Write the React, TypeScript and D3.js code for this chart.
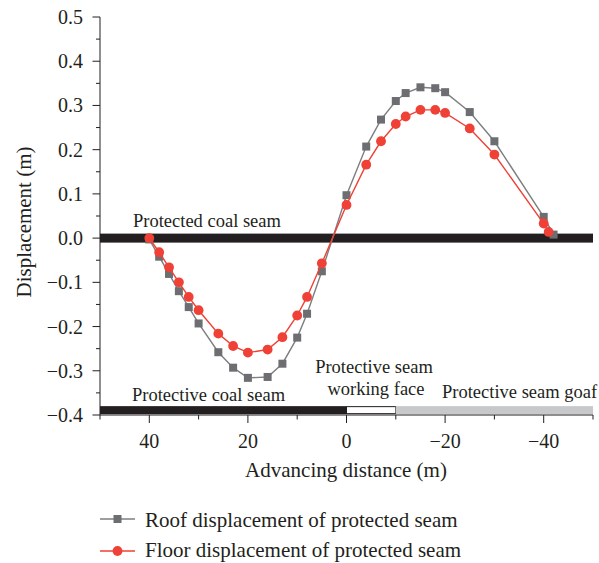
import React from "react";
import * as d3 from "d3";

const roofX = [40, 38, 36, 34, 32, 30, 26, 23, 20, 16, 13, 10, 8, 5, 0, -4, -7, -10, -12, -15, -18, -20, -25, -30, -40, -42];
const roofY = [-0.003, -0.042, -0.081, -0.12, -0.156, -0.193, -0.258, -0.293, -0.316, -0.314, -0.284, -0.225, -0.171, -0.075, 0.097, 0.207, 0.268, 0.31, 0.328, 0.341, 0.339, 0.33, 0.285, 0.219, 0.048, 0.008];
const floorX = [40, 38, 36, 34, 32, 30, 26, 23, 20, 16, 13, 10, 8, 5, 0, -4, -7, -10, -12, -15, -18, -20, -25, -30, -40, -41];
const floorY = [0, -0.032, -0.066, -0.1, -0.133, -0.163, -0.216, -0.244, -0.259, -0.252, -0.224, -0.175, -0.133, -0.057, 0.075, 0.166, 0.219, 0.258, 0.275, 0.29, 0.29, 0.283, 0.248, 0.189, 0.033, 0.014];

const xTicks = [40, 20, 0, -20, -40];
const xMinor = [50, 30, 10, -10, -30, -50];
const yTicks = [-0.4, -0.3, -0.2, -0.1, 0, 0.1, 0.2, 0.3, 0.4, 0.5];
const yMinor = [-0.35, -0.25, -0.15, -0.05, 0.05, 0.15, 0.25, 0.35, 0.45];

// seam bands: [start, end] in advancing distance
const protectiveSolid = [50, 0];
const workingFace = [0, -10];
const goaf = [-10, -50];
const protectedSeam = [50, -50];

const roofLabel = "Roof displacement of protected seam";
const floorLabel = "Floor displacement of protected seam";

const FONT = "'Liberation Serif', 'Times New Roman', serif";
const GRAY = "#6d6e71";
const GRAY_LINE = "#7d7e81";
const RED = "#ef4136";
const DARK = "#231f20";

export default function App() {
  const x = d3.scaleLinear().domain([50, -50]).range([100, 593]);
  const y = d3.scaleLinear().domain([-0.4, 0.5]).range([415, 17]);

  const roof = roofX.map((v, i) => [v, roofY[i]] as [number, number]);
  const floor = floorX.map((v, i) => [v, floorY[i]] as [number, number]);
  const line = d3.line<[number, number]>().x(d => x(d[0])).y(d => y(d[1]));

  const fmt = (v: number) => (v < 0 ? "\u2212" : "") + Math.abs(v).toFixed(1);
  const fmtX = (v: number) => (v < 0 ? "\u2212" : "") + Math.abs(v);

  const bandTopY = y(0);
  const bottomBandY = y(-0.389);

  return (
    <svg width={599} height={563} style={{ position: "absolute", left: 0, top: 0 }} fontFamily={FONT}>
      <rect width={599} height={563} fill="#fff" />
      {/* protected seam band */}
      <rect x={x(protectedSeam[0])} y={bandTopY - 4.5} width={x(protectedSeam[1]) - x(protectedSeam[0])} height={9} fill={DARK} />
      {/* protective seam bands */}
      <rect x={x(protectiveSolid[0])} y={bottomBandY - 4} width={x(protectiveSolid[1]) - x(protectiveSolid[0])} height={8} fill={DARK} />
      <rect x={x(workingFace[0])} y={bottomBandY - 3.5} width={x(workingFace[1]) - x(workingFace[0])} height={7} fill="#fff" stroke={DARK} strokeWidth={1} />
      <rect x={x(goaf[0])} y={bottomBandY - 4} width={x(goaf[1]) - x(goaf[0])} height={8} fill="#c7c8ca" />

      {/* annotations */}
      <text x={133} y={227} fontSize={18.5} fill={DARK}>Protected coal seam</text>
      <text x={132} y={400.5} fontSize={18.5} fill={DARK}>Protective coal seam</text>
      <text x={374} y={373} fontSize={18.5} fill={DARK} textAnchor="middle">Protective seam</text>
      <text x={376} y={395} fontSize={18.5} fill={DARK} textAnchor="middle">working face</text>
      <text x={442} y={398} fontSize={18.5} fill={DARK}>Protective seam goaf</text>

      {/* axes */}
      <line x1={100} x2={100} y1={y(0.5)} y2={y(-0.4)} stroke={DARK} strokeWidth={1} />
      <line x1={100} x2={593} y1={y(-0.4)} y2={y(-0.4)} stroke={DARK} strokeWidth={1} />
      {yTicks.map(t => (
        <g key={"yt" + t}>
          <line x1={92.5} x2={100} y1={y(t)} y2={y(t)} stroke={DARK} />
          <text x={83} y={y(t)} dy="0.35em" textAnchor="end" fontSize={20} fill={DARK}>{fmt(t)}</text>
        </g>
      ))}
      {yMinor.map(t => (
        <line key={"ym" + t} x1={96} x2={100} y1={y(t)} y2={y(t)} stroke={DARK} />
      ))}
      {xTicks.map(t => (
        <g key={"xt" + t}>
          <line x1={x(t)} x2={x(t)} y1={415} y2={423} stroke={DARK} />
          <text x={x(t)} y={448} textAnchor="middle" fontSize={20} fill={DARK}>{fmtX(t)}</text>
        </g>
      ))}
      {xMinor.map(t => (
        <line key={"xm" + t} x1={x(t)} x2={x(t)} y1={415} y2={419.5} stroke={DARK} />
      ))}
      <text x={346} y={477} textAnchor="middle" fontSize={21} fill={DARK}>Advancing distance (m)</text>
      <text transform={`translate(31,${(y(0.5) + y(-0.4)) / 2 + 6}) rotate(-90)`} textAnchor="middle" fontSize={21} fill={DARK}>Displacement (m)</text>

      {/* series */}
      <path d={line(roof) || ""} fill="none" stroke={GRAY_LINE} strokeWidth={1.4} />
      {roof.map((d, i) => (
        <rect key={"r" + i} x={x(d[0]) - 4} y={y(d[1]) - 4} width={8} height={8} fill={GRAY} />
      ))}
      <path d={line(floor) || ""} fill="none" stroke={RED} strokeWidth={1.4} />
      {floor.map((d, i) => (
        <circle key={"f" + i} cx={x(d[0])} cy={y(d[1])} r={4.9} fill={RED} />
      ))}

      {/* legend */}
      <line x1={100} x2={135} y1={519} y2={519} stroke={GRAY_LINE} strokeWidth={1.4} />
      <rect x={113.5} y={515} width={8} height={8} fill={GRAY} />
      <text x={145} y={527} fontSize={21} fill={DARK}>{roofLabel}</text>
      <line x1={100} x2={135} y1={551} y2={551} stroke={RED} strokeWidth={1.4} />
      <circle cx={117.5} cy={551} r={4.9} fill={RED} />
      <text x={145} y={557} fontSize={21} fill={DARK}>{floorLabel}</text>
    </svg>
  );
}
